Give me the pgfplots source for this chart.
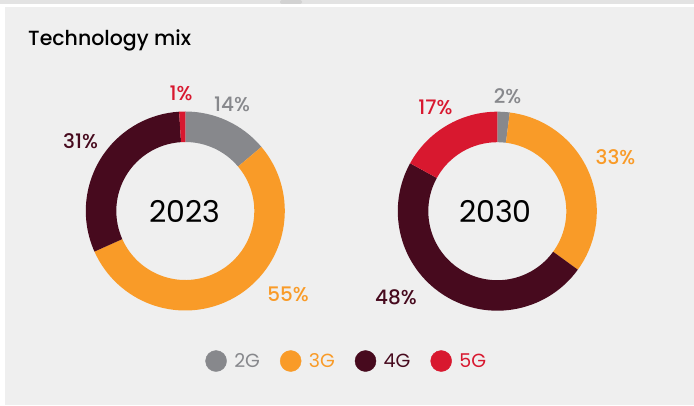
\documentclass[border=0pt]{standalone}
\usepackage{pgfplots}
\pgfplotsset{compat=1.18}
\usepackage{fontspec}
\setmainfont{Poppins}
\IfFontExistsTF{Poppins Medium}{\newfontfamily\pmed{Poppins Medium}}{\newfontfamily\pmed{Poppins}[FakeBold=0.4]}
\definecolor{bg}{HTML}{EFEFEF}
\definecolor{topgray}{HTML}{E3E3E3}
\definecolor{scroll}{HTML}{D2D2D2}
\definecolor{c2g}{HTML}{87888C}
\definecolor{c3g}{HTML}{F99B28}
\definecolor{c4g}{HTML}{470A1E}
\definecolor{c5g}{HTML}{D8182F}
% #1 cx, #2 cy, #3 list value/colour (clockwise from 12 o'clock)
\newcommand\donut[3]{%
  \gdef\tot{0}%
  \foreach \v/\c in {#3} {\pgfmathparse{\tot+\v}\xdef\tot{\pgfmathresult}}%
  \gdef\cum{0}%
  \foreach \v/\c in {#3} {%
    \pgfmathsetmacro\aone{90-(\cum/\tot)*360}%
    \pgfmathparse{\cum+\v}\xdef\cum{\pgfmathresult}%
    \pgfmathsetmacro\atwo{90-(\cum/\tot)*360}%
    \edef\tmp{\noexpand\fill[\c] (axis cs:#1,#2) ++(\aone:99.5pt) arc[start angle=\aone, end angle=\atwo, radius=99.5pt] -- ++(\atwo:-30.5pt) arc[start angle=\atwo, end angle=\aone, radius=69pt] -- cycle;}%
    \tmp}%
}
\begin{document}
\begin{tikzpicture}
\begin{axis}[
  x=1pt, y=1pt, xmin=0, xmax=694, ymin=0, ymax=405,
  hide axis, clip=false,
  legend columns=4,
  legend style={at={(0.4996,0.1086)}, anchor=center, draw=none, fill=none,
    font=\fontsize{19}{21}\selectfont, inner sep=0pt,
    /tikz/every odd column/.append style={column sep=5.5pt},
    /tikz/every even column/.append style={column sep=18pt}},
  legend image code/.code={\fill[#1] (0pt,0pt) circle (10.5pt);},
]
\fill[white] (axis cs:0,0) rectangle (axis cs:694,405);
\fill[topgray] (axis cs:0,401) rectangle (axis cs:694,405);
\fill[scroll, rounded corners=2pt] (axis cs:280,401) rectangle (axis cs:302,405);
\fill[bg] (axis cs:5,0) rectangle (axis cs:694,398);

\donut{185.3}{194}{14/c2g,55/c3g,31/c4g,1/c5g}
\donut{497.3}{193.8}{2/c2g,33/c3g,48/c4g,17/c5g}

\node[anchor=base west, inner sep=0pt, font=\pmed\fontsize{20.5}{24}\selectfont] at (axis cs:28,359.3) {Technology mix};

\node[inner sep=0pt, text=black, font=\fontsize{30}{32}\selectfont] at (axis cs:185,193.3) {2023};
\node[inner sep=0pt, text=black, font=\fontsize{30}{32}\selectfont] at (axis cs:495.5,193.3) {2030};

\begin{scope}[every node/.style={inner sep=0pt, font=\pmed\fontsize{20}{24}\selectfont}]
\node[text=c5g] at (axis cs:181,311.5) {1\%};
\node[text=c2g] at (axis cs:232,301) {14\%};
\node[text=c4g] at (axis cs:80.5,264) {31\%};
\node[text=c3g] at (axis cs:288,111) {55\%};
\node[text=c2g] at (axis cs:507.5,309) {2\%};
\node[text=c5g] at (axis cs:435.5,298) {17\%};
\node[text=c3g] at (axis cs:615.5,248) {33\%};
\node[text=c4g] at (axis cs:396,107.5) {48\%};
\end{scope}

\addlegendimage{c2g}\addlegendentry{\textcolor{c2g}{2G}}
\addlegendimage{c3g}\addlegendentry{\textcolor{c3g}{3G}}
\addlegendimage{c4g}\addlegendentry{\textcolor{c4g}{4G}}
\addlegendimage{c5g}\addlegendentry{\textcolor{c5g}{5G}}
\end{axis}
\end{tikzpicture}
\end{document}
